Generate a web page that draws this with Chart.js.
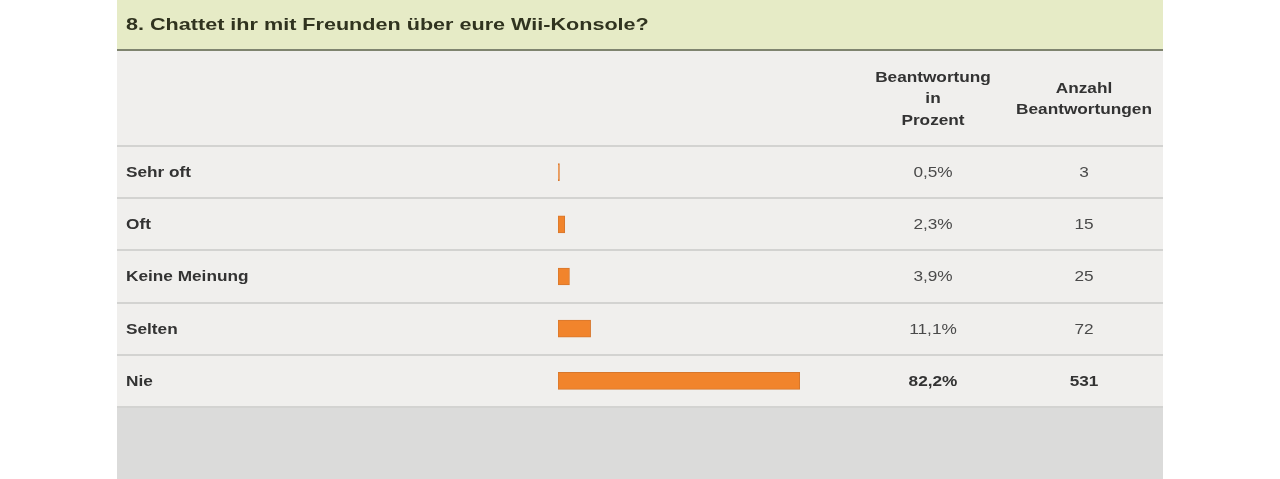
<!DOCTYPE html>
<html>
<head>
<meta charset="utf-8">
<script src="https://cdn.jsdelivr.net/npm/chart.js@4"></script>
<style>
  body { margin: 0; background: #ffffff; }
  canvas { display: block; }
</style>
</head>
<body>
<canvas id="umfrage" width="1280" height="479"></canvas>
<script>
// Antworten und Werte aus der Umfrage
const frage = '8. Chattet ihr mit Freunden über eure Wii-Konsole?';
const kategorien = ['Sehr oft', 'Oft', 'Keine Meinung', 'Selten', 'Nie'];
const prozente = [0.5, 2.3, 3.9, 11.1, 82.2];
const anzahlen = [3, 15, 25, 72, 531];
const kopfProzent = ['Beantwortung', 'in', 'Prozent'];
const kopfAnzahl = ['Anzahl', 'Beantwortungen'];

// Text etwas breiter zeichnen, wie im Original
function tekst(ctx, txt, x, y, align, font, color, sx) {
    ctx.save();
    ctx.font = font;
    ctx.fillStyle = color;
    ctx.textBaseline = 'middle';
    ctx.textAlign = align;
    ctx.translate(x, y);
    ctx.scale(sx || 1.23, 1);
    ctx.fillText(txt, 0, 0);
    ctx.restore();
}

const tabelPlugin = {
    id: 'tabel',
    beforeDraw(chart) {
        const ctx = chart.ctx;
        const area = chart.chartArea;
        const L = 117, R = 1163;
        ctx.save();
        ctx.fillStyle = '#ffffff';
        ctx.fillRect(0, 0, chart.width, chart.height);
        // titelbalk
        ctx.fillStyle = '#e6ebc6';
        ctx.fillRect(L, 0, R - L, 49);
        ctx.fillStyle = '#7f846f';
        ctx.fillRect(L, 49, R - L, 2);
        // kop + rijen
        ctx.fillStyle = '#f0efed';
        ctx.fillRect(L, 51, R - L, area.bottom - 51);
        // onderkant
        ctx.fillStyle = '#dbdbda';
        ctx.fillRect(L, area.bottom + 1, R - L, chart.height - area.bottom);
        // scheidingslijnen
        const rijH = (area.bottom - area.top) / kategorien.length;
        ctx.fillStyle = '#d3d3d1';
        for (let i = 0; i <= kategorien.length; i++) {
            const y = Math.round(area.top + i * rijH);
            ctx.fillRect(L, y - 1, R - L, 2);
        }
        ctx.restore();
    },
    afterDatasetsDraw(chart) {
        const ctx = chart.ctx;
        const yAs = chart.scales.y;
        const kolP = 933, kolA = 1084;
        tekst(ctx, frage, 126, 25, 'left', 'bold 17px "Liberation Sans", Arial', '#30331f', 1.27);
        kopfProzent.forEach((t, i) => {
            tekst(ctx, t, kolP, 78 + i * 21.5, 'center', 'bold 14px "Liberation Sans", Arial', '#333333');
        });
        kopfAnzahl.forEach((t, i) => {
            tekst(ctx, t, kolA, 89 + i * 21.5, 'center', 'bold 14px "Liberation Sans", Arial', '#333333');
        });
        const maxIdx = prozente.indexOf(Math.max(...prozente));
        kategorien.forEach((k, i) => {
            const y = yAs.getPixelForValue(i) + 1;
            tekst(ctx, k, 126, y, 'left', 'bold 14px "Liberation Sans", Arial', '#333333');
            const gewicht = i === maxIdx ? 'bold ' : '';
            const kleur = i === maxIdx ? '#333333' : '#4a4a4a';
            const p = prozente[i].toFixed(1).replace('.', ',') + '%';
            tekst(ctx, p, kolP, y, 'center', gewicht + '14px "Liberation Sans", Arial', kleur);
            tekst(ctx, String(anzahlen[i]), kolA, y, 'center', gewicht + '14px "Liberation Sans", Arial', kleur);
        });
    }
};

const ctx = document.getElementById('umfrage').getContext('2d');
const grafiek = new Chart(ctx, {
    type: 'bar',
    data: {
        labels: kategorien,
        datasets: [{
            label: 'Prozent',
            data: prozente,
            backgroundColor: '#f1842c',
            borderColor: '#d7772c',
            borderWidth: 1,
            borderSkipped: false,
            barThickness: 17
        }]
    },
    options: {
        indexAxis: 'y',
        responsive: false,
        animation: false,
        devicePixelRatio: 1,
        layout: {
            padding: { left: 558, right: 428, top: 146, bottom: 72 }
        },
        plugins: {
            legend: { display: false },
            tooltip: { enabled: false }
        },
        scales: {
            x: { display: false, min: 0, max: 100 },
            y: { display: false }
        }
    },
    plugins: [tabelPlugin]
});
</script>
</body>
</html>
